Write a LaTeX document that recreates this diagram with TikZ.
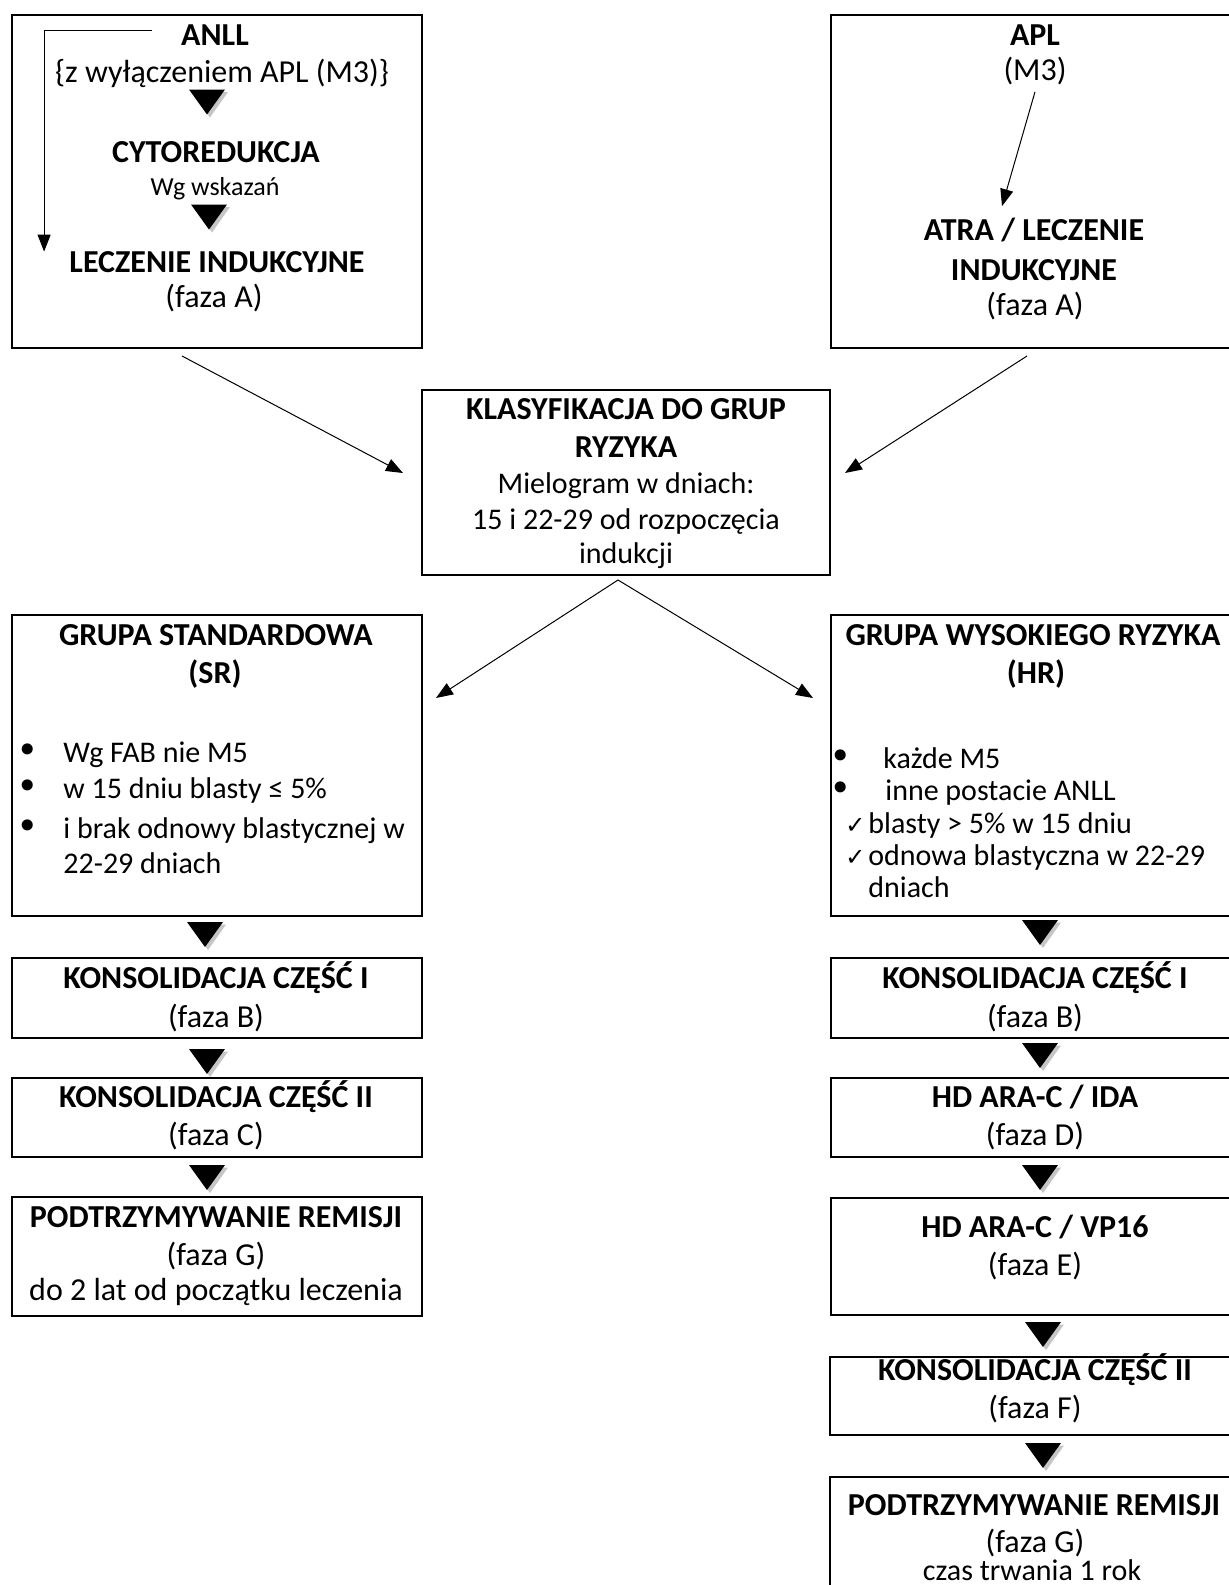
\documentclass[tikz,border=0pt]{standalone}
\usepackage{fontspec}
\setmainfont{Carlito}
\newfontfamily\dejavu{DejaVu Sans}
\usetikzlibrary{arrows.meta}

\newcommand{\blt}{\smash{\raisebox{-0.8pt}{\dejavu\fontsize{19}{19}\selectfont •}}}
\newcommand{\chk}{\smash{\dejavu\fontsize{12}{12}\selectfont ✓}}

\tikzset{
  box/.style = {rectangle, draw, line width=1pt, inner sep=0pt, anchor=north west},
  head/.style = {inner sep=0pt, anchor=base, font=\fontsize{16}{19}\selectfont\bfseries},
  body/.style = {inner sep=0pt, anchor=base, font=\fontsize{16}{19}\selectfont},
  mid/.style = {body, font=\fontsize{15}{18}\selectfont},
  note/.style = {inner sep=0pt, anchor=base, font=\fontsize{13}{16}\selectfont},
  listitem/.style = {mid, anchor=base west},
  flow/.style = {line width=0.5pt, -{Triangle[length=8.5pt,width=6.5pt]}},
  dtri/.pic = {
    \fill[gray!45] (-7.5pt,5pt) -- (10.5pt,5pt) -- (1.5pt,-7.75pt) -- cycle;
    \fill[black] (-9pt,6.25pt) -- (9pt,6.25pt) -- (0pt,-6.25pt) -- cycle;
  }
}

\begin{document}
\begin{tikzpicture}[x=0.5pt, y=-0.5pt]
    \useasboundingbox (0,0) rectangle (1229,1585);
    \fill[white] (0,0) rectangle (1229,1585);

    % boxes
    \node[box, minimum width=205pt, minimum height=166.5pt] (anll) at (11,14) {};
    \node[box, minimum width=205pt, minimum height=166.5pt] (apl) at (830,14) {};
    \node[box, minimum width=204pt, minimum height=92.5pt] (klas) at (421,389) {};
    \node[box, minimum width=205pt, minimum height=150.5pt] (sr) at (11,614) {};
    \node[box, minimum width=205pt, minimum height=150.5pt] (hr) at (830,614) {};
    \node[box, minimum width=205pt, minimum height=40pt] (konsSR1) at (11,957) {};
    \node[box, minimum width=205pt, minimum height=39.5pt] (konsSR2) at (11,1077) {};
    \node[box, minimum width=205pt, minimum height=59.5pt] (podtSR) at (11,1196) {};
    \node[box, minimum width=205pt, minimum height=40pt] (konsHR1) at (830,957) {};
    \node[box, minimum width=205pt, minimum height=39.5pt] (hdida) at (830,1077) {};
    \node[box, minimum width=205pt, minimum height=58.5pt] (hdvp) at (830,1197) {};
    \node[box, minimum width=205pt, minimum height=39pt] (konsHR2) at (829,1356) {};
    \node[box, minimum width=205pt, minimum height=70pt] (podtHR) at (829,1476) {};

    % ANLL
    \node[head] (anllT) at (215,45) {ANLL};
    \node[body] (anllS) at (222,82) {\{z wyłączeniem APL (M3)\}};
    \pic at (207,102) {dtri};
    \node[head] (cyto) at (216,162) {CYTOREDUKCJA};
    \node[note] (wg) at (215,195) {Wg wskazań};
    \pic at (209,217) {dtri};
    \node[head] (lecz) at (217,272) {LECZENIE INDUKCYJNE};
    \node[body] (leczF) at (214,307) {(faza A)};

    % APL
    \node[head] (aplT) at (1035,45) {APL};
    \node[body] (aplS) at (1035,80) {(M3)};
    \node[head] (atra) at (1034,240) {ATRA / LECZENIE};
    \node[head] (atra2) at (1034,280) {INDUKCYJNE};
    \node[body] (atraF) at (1035,315) {(faza A)};

    % klasyfikacja
    \node[head] (klasT) at (626,419) {KLASYFIKACJA DO GRUP};
    \node[head] (klasT2) at (626,457) {RYZYKA};
    \node[mid] (mielo) at (626,493) {Mielogram w dniach:};
    \node[mid] (dni) at (626,529) {15 i 22-29 od rozpoczęcia};
    \node[mid] (indu) at (626,563) {indukcji};

    % grupa standardowa
    \node[head] (srT) at (216,645) {GRUPA STANDARDOWA};
    \node[head] (srT2) at (215,683) {(SR)};
    \node[listitem] (sr1) at (16,762) {\makebox[23.5pt][l]{\blt}Wg FAB nie M5};
    \node[listitem] (sr2) at (16,798) {\makebox[23.5pt][l]{\blt}w 15 dniu blasty ≤ 5\%};
    \node[listitem] (sr3) at (16,838) {\makebox[23.5pt][l]{\blt}i brak odnowy blastycznej w};
    \node[listitem] (sr4) at (63,873) {22-29 dniach};

    % grupa wysokiego ryzyka
    \node[head] (hrT) at (1033,645) {GRUPA WYSOKIEGO RYZYKA};
    \node[head] (hrT2) at (1036,683) {(HR)};
    \node[listitem] (hr1) at (829,768) {\makebox[27pt][l]{\blt}każde M5};
    \node[listitem] (hr2) at (829,800) {\makebox[28pt][l]{\blt}inne postacie ANLL};
    \node[listitem] (hr3) at (845,833) {\makebox[11.5pt][l]{\chk}blasty > 5\% w 15 dniu};
    \node[listitem] (hr4) at (845,865) {\makebox[11.5pt][l]{\chk}odnowa blastyczna w 22-29};
    \node[listitem] (hr5) at (868,897) {dniach};

    % left column
    \node[head] (ks1) at (216,988) {KONSOLIDACJA CZĘŚĆ I};
    \node[body] (ks1F) at (216,1027) {(faza B)};
    \node[head] (ks2) at (216,1107) {KONSOLIDACJA CZĘŚĆ II};
    \node[body] (ks2F) at (216,1145) {(faza C)};
    \node[head] (ps) at (216,1227) {PODTRZYMYWANIE REMISJI};
    \node[body] (psF) at (216,1265) {(faza G)};
    \node[body] (psD) at (216,1300) {do 2 lat od początku leczenia};

    % right column
    \node[head] (kh1) at (1035,988) {KONSOLIDACJA CZĘŚĆ I};
    \node[body] (kh1F) at (1035,1027) {(faza B)};
    \node[head] (ida) at (1035,1107) {HD ARA-C / IDA};
    \node[body] (idaF) at (1035,1145) {(faza D)};
    \node[head] (vp) at (1035,1237) {HD ARA-C / VP16};
    \node[body] (vpF) at (1035,1275) {(faza E)};
    \node[head] (kh2) at (1035,1380) {KONSOLIDACJA CZĘŚĆ II};
    \node[body] (kh2F) at (1035,1418) {(faza F)};
    \node[head] (ph) at (1034,1515) {PODTRZYMYWANIE REMISJI};
    \node[body] (phF) at (1035,1552) {(faza G)};
    \node[body, font=\fontsize{15}{18}\selectfont] (phC) at (1032,1580) {czas trwania 1 rok};

    % block arrows
    \pic at (205,934.5) {dtri};
    \pic at (207,1061.5) {dtri};
    \pic at (207,1177.5) {dtri};
    \pic at (1040,932.5) {dtri};
    \pic at (1040,1055.5) {dtri};
    \pic at (1040,1177.5) {dtri};
    \pic at (1043,1334.5) {dtri};
    \pic at (1043,1455.5) {dtri};

    % arrows
    \draw[flow] ([xshift=-14.5pt,yshift=2pt]anllT.west) -| ([xshift=-12.5pt,yshift=-0.5pt]lecz.north west);
    \draw[flow] ([yshift=-3.5pt]aplS.south) -- ([xshift=-16pt,yshift=5.5pt]atra.north);
    \draw[flow] ([xshift=-17.5pt,yshift=-3.5pt]anll.south) -- ([xshift=-9pt,yshift=4.75pt]klas.west);
    \draw[flow] ([xshift=-4.5pt,yshift=-3.5pt]apl.south) -- ([xshift=7pt,yshift=4.75pt]klas.east);
    \draw[flow] ([xshift=-4pt,yshift=-2pt]klas.south) -- ([xshift=6.5pt,yshift=33.75pt]sr.east);
    \draw[flow] ([xshift=-4pt,yshift=-2pt]klas.south) -- ([xshift=-8.5pt,yshift=33.75pt]hr.west);
\end{tikzpicture}
\end{document}
